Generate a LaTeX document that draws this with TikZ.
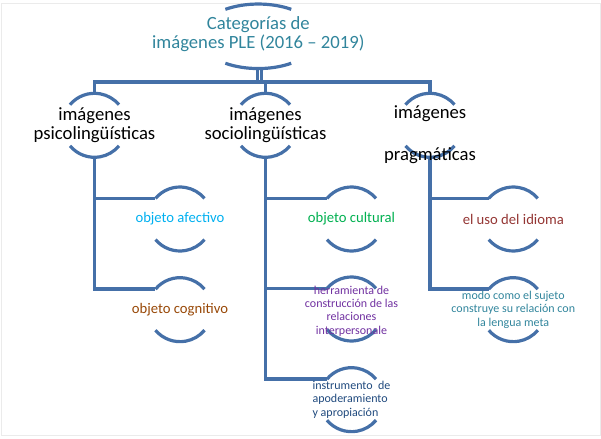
\documentclass[tikz,border=0pt]{standalone}
\usepackage{fontspec}
\setmainfont{Carlito}
\usepackage{tikz}
\usetikzlibrary{calc,positioning,shapes}

\definecolor{linkblue}{HTML}{4570A8}
\definecolor{titleteal}{HTML}{31859C}
\definecolor{afectblue}{HTML}{00B0F0}
\definecolor{cognbrown}{HTML}{984807}
\definecolor{cultgreen}{HTML}{00B050}
\definecolor{herrpurple}{HTML}{7030A0}
\definecolor{instrnavy}{HTML}{1F497D}
\definecolor{usored}{HTML}{943634}

\tikzstyle{ring}  = [circle, minimum size=48pt, inner sep=0pt, outer sep=0pt]
\tikzstyle{link}  = [line width=2.4pt, draw=linkblue]

% top and bottom arc of a ring node
\newcommand{\ringarcs}[1]{%
  \draw[link] (#1.140) arc[start angle=140, end angle=40, radius=24pt];
  \draw[link] (#1.220) arc[start angle=220, end angle=320, radius=24pt];}

\begin{document}
\begin{tikzpicture}[x=0.75pt, y=-0.75pt,
			lvlone/.style={font=\fontsize{14}{14.25}\selectfont, align=center, text=black},
			lvltwo/.style={font=\fontsize{11}{13}\selectfont, align=center},
			lvlsmall/.style={font=\fontsize{9}{10}\selectfont, align=center},
		]

		\useasboundingbox (0,0) rectangle (601,439);
		\draw[black!8, line width=0.75pt] (1,3) rectangle (600,435);

		% rings
		\node[ellipse, minimum width=90pt, minimum height=48.4pt, inner sep=0pt] (title) at (258.3,36.3) {};
		\node[ring] (psico) at (94.5,125.3) {};
		\node[ring] (socio) at (265.5,125.3) {};
		\node[ring] (prag) at (430,125.3) {};

		\node[ring] (afect) at (180,219) {};
		\node[ring, below=20pt of afect] (cogn) {};
		\node[ring] (cult) at (351.5,219) {};
		\node[ring, below=19.5pt of cult] (herr) {};
		\node[ring, below=20pt of herr] (instr) {};
		\node[ring] (uso) at (513.3,219) {};
		\node[ring, below=20pt of uso] (modo) {};

		\draw[link] ([shift={(56.7:45pt and 24.2pt)}]title.center) arc[start angle=56.7, end angle=123.3, x radius=45pt, y radius=24.2pt];
		\draw[link] ([shift={(236.7:45pt and 24.2pt)}]title.center) arc[start angle=236.7, end angle=303.3, x radius=45pt, y radius=24.2pt];
		\ringarcs{psico}
		\ringarcs{socio}
		\ringarcs{prag}
		\ringarcs{afect}
		\ringarcs{cogn}
		\ringarcs{cult}
		\ringarcs{herr}
		\ringarcs{instr}
		\ringarcs{uso}
		\ringarcs{modo}

		% connectors
		\coordinate (hub) at (258.3,82);
		\draw[link] ([xshift=-0.6pt]title.south) |- (psico.north |- hub) -- (psico.north);
		\draw[link] ([xshift=-0.6pt]title.south) |- (socio.north |- hub) -- (socio.north);
		\draw[link] ([xshift=2.4pt]title.south) |- (prag.north |- hub) -- (prag.north);

		\draw[link] (psico.south) |- (afect.140);
		\draw[link] (psico.south) |- (cogn.140);
		\draw[link] (socio.south) |- (cult.140);
		\draw[link] (socio.south) |- (herr.140);
		\draw[link] (socio.south) |- (instr.140);
		\draw[link] (prag.south) |- (uso.140);
		\draw[link] (prag.south) |- (modo.140);

		% texts
		\node[lvlone, text=titleteal] (title-txt) at ([yshift=1.5pt]title.center) {Categorías de\\imágenes PLE (2016 – 2019)};
		\node[lvlone] (psico-txt) at (psico) {imágenes\\psicolingüísticas};
		\node[lvlone] (socio-txt) at (socio) {imágenes\\sociolingüísticas};
		\node[lvlone] (prag-txt) at ([yshift=-7pt]prag.center) {imágenes\\[17.75pt]pragmáticas};

		\node[lvltwo, text=afectblue] (afect-txt) at (afect) {objeto afectivo};
		\node[lvltwo, text=cognbrown] (cogn-txt) at (cogn) {objeto cognitivo};
		\node[lvltwo, text=cultgreen] (cult-txt) at (cult) {objeto cultural};
		\node[lvlsmall, text=herrpurple] (herr-txt) at ([yshift=-1.5pt]herr.center) {herramienta de\\construcción de las\\relaciones\\interpersonale};
		\node[lvlsmall, text=instrnavy, align=left] (instr-txt) at (instr) {instrumento \ de\\apoderamiento\\y apropiación};
		\node[lvltwo, text=usored] (uso-txt) at (uso) {el uso del idioma};
		\node[lvlsmall, text=titleteal] (modo-txt) at (modo) {modo como el sujeto\\construye su relación con\\la lengua meta};
	\end{tikzpicture}
\end{document}
